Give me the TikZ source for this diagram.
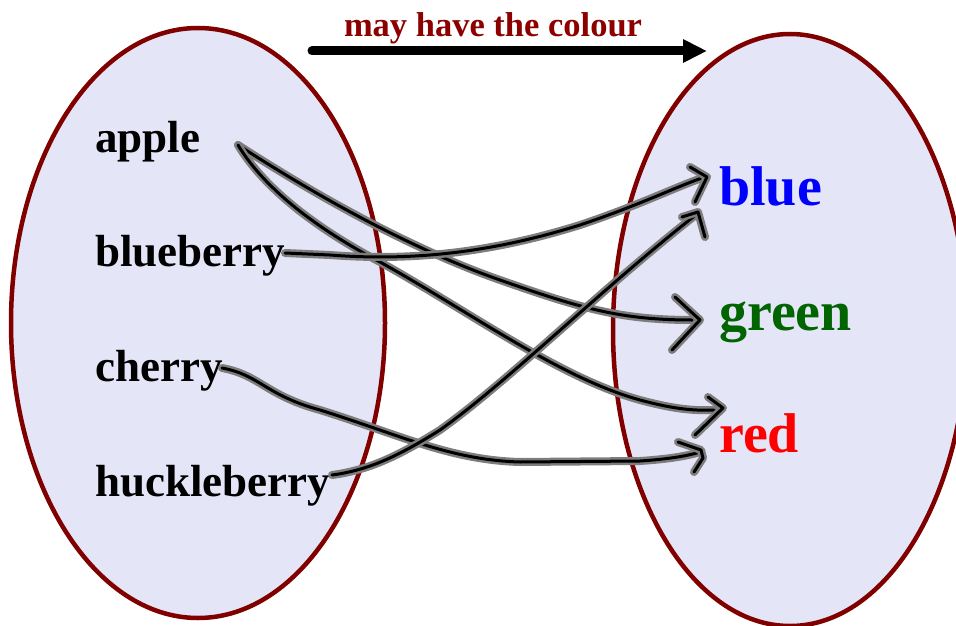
\documentclass[tikz,border=0pt]{standalone}
\usepackage{fontspec}
\setmainfont{Liberation Serif}
\usetikzlibrary{arrows.meta}
\definecolor{setfill}{RGB}{229,229,248}
\definecolor{setedge}{RGB}{128,0,0}
\definecolor{titlered}{RGB}{140,0,0}
\definecolor{dkgreen}{RGB}{0,100,0}
\definecolor{halo}{RGB}{125,125,125}
\tikzset{
  setshape/.style={fill=setfill, draw=setedge, line width=4.5pt},
  lbl/.style={inner sep=0pt, anchor=base west, font=\fontsize{45}{50}\selectfont\bfseries},
  colr/.style={inner sep=0pt, anchor=base west, font=\fontsize{56}{60}\selectfont\bfseries},
  wire/.style={line width=3pt, black, line cap=round, line join=round,
    preaction={draw=halo, line width=8pt, line cap=round, line join=round}},
}
\begin{document}
\begin{tikzpicture}[x=1pt,y=-1pt]
\useasboundingbox (0,0) rectangle (956,626);
\begin{scope}
\clip (0,0) rectangle (956,626);
\draw[setshape] (198,323) ellipse [x radius=187pt, y radius=295pt];
\draw[setshape] (790,330) ellipse [x radius=177pt, y radius=296pt];
\end{scope}

% title
\node[inner sep=0pt, anchor=base, text=titlered, font=\fontsize{34.5}{38}\selectfont\bfseries] (title) at (493,37) {may have the colour};
\coordinate (ta) at (312,51);
\coordinate (tb) at (707,51);
\draw[line width=9pt, line cap=round, -{Triangle[length=24pt,width=22pt]}] (ta) -- (tb);

% labels
\node[lbl] (apple) at (95,152) {apple};
\node[lbl] (blueberry) at (95,266) {blueberry};
\node[lbl] (cherry) at (95,381) {cherry};
\node[lbl] (huckleberry) at (95,496) {huckleberry};
\node[colr, text=blue] (blue) at (719,205) {blue};
\node[colr, text=dkgreen] (green) at (719,330) {green};
\node[colr, text=red] (red) at (719,452) {red};

% wire end points
\coordinate (a0) at (238,145);
\coordinate (b0) at (285,253);
\coordinate (c0) at (222,368);
\coordinate (h0) at (332,475);
\coordinate (g1) at (692,320);
\coordinate (r1) at (714,410);
\coordinate (r2) at (697,453);
\coordinate (u1) at (705,177);
\coordinate (u2) at (697,214);

% apple -> green
\draw[wire] (a0) .. controls (300,185) and (400,245) .. (500,280)
  .. controls (580,308) and (620,320) .. (g1);
\draw[wire] (675,297) -- (700,320) -- (672,350);
% apple -> red
\draw[wire] (a0) .. controls (262,185) and (310,225) .. (380,262)
  .. controls (470,312) and (560,378) .. (640,400)
  .. controls (670,408) and (690,411) .. (r1);
\draw[wire] (708,397) -- (723,408) -- (695,435);
% blueberry -> blue
\draw[wire] (b0) -- (330,255) .. controls (420,262) and (500,250) .. (580,225)
  .. controls (640,205) and (680,185) .. (u1);
\draw[wire] (690,167) -- (707,177) -- (695,202);
% cherry -> red
\draw[wire] (c0) .. controls (260,375) and (265,395) .. (320,410)
  .. controls (400,435) and (450,460) .. (520,462) -- (640,461)
  .. controls (670,459) and (685,456) .. (r2);
\draw[wire] (678,442) -- (701,450) -- (703,458) -- (694,472);
% huckleberry -> blue
\draw[wire] (h0) .. controls (370,470) and (400,455) .. (440,430)
  .. controls (510,380) and (600,290) .. (u2);
\draw[wire] (682,217) -- (698,212) -- (705,237);
\end{tikzpicture}
\end{document}
